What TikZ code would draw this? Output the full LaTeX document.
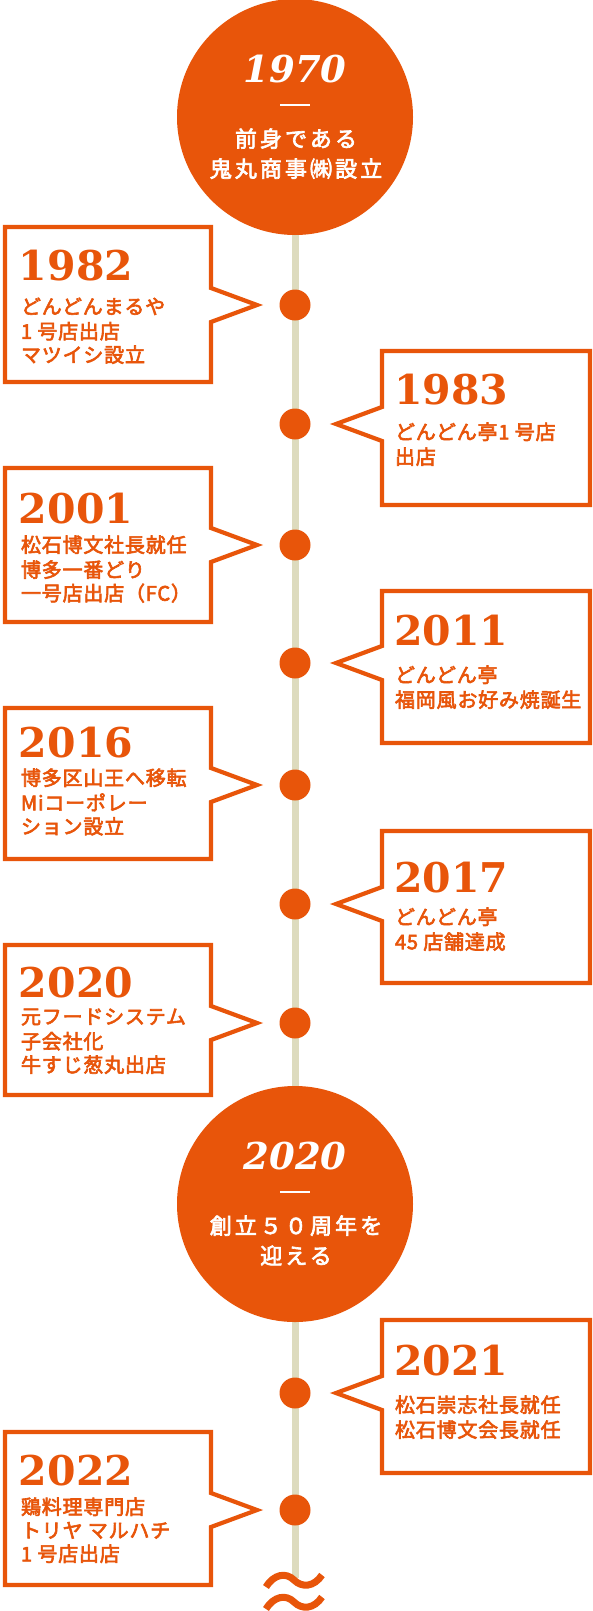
\documentclass[tikz,border=0pt]{standalone}
\usepackage{fontspec}
\usetikzlibrary{backgrounds}
\newfontfamily\jpfont{Noto Sans CJK JP}[LetterSpace=4, FakeBold=3]
\newfontfamily\jpcircfont{Noto Sans CJK JP}[LetterSpace=14, FakeBold=3]
\newfontfamily\yearfont{DejaVu Serif}
\definecolor{tlOrange}{HTML}{E8550A}
\definecolor{tlBeige}{HTML}{DDDBBE}

\begin{document}
\begin{tikzpicture}[
  x=1pt, y=-1pt,
  every node/.style={inner sep=0pt, outer sep=0pt},
  bigcircle/.style={circle, fill=tlOrange, minimum size=236pt},
  dot/.style={circle, fill=tlOrange, minimum size=31pt},
  callout/.style={draw=tlOrange, fill=white, line width=4.2pt, miter limit=10},
  yearbig/.style={
    font=\yearfont\bfseries\itshape\fontsize{37}{37}\selectfont,
    text=white, anchor=base
  },
  circtext/.style={
    font=\jpcircfont\fontsize{22}{30}\selectfont,
    text=white, align=center, anchor=north
  },
  yearsmall/.style={
    font=\yearfont\bfseries\fontsize{41}{41}\selectfont,
    text=tlOrange, anchor=base west
  },
  body/.style={
    font=\jpfont\fontsize{20}{23.5}\selectfont,
    text=tlOrange, align=left, anchor=north west
  },
  spine/.style={draw=tlBeige, line width=7pt},
  wave/.style={draw=tlOrange, line width=7pt}
]
 \useasboundingbox (0,0) rectangle (593,1611);

 % Milestone circles
 \node[bigcircle] (c1970) at (295,117) {};
 \node[yearbig] (y1970) at (295,82) {1970};
 \draw[white, line width=1.2pt] (280,105) -- (310,105);
 \node[circtext] (t1970) at (296,126) {\strut 前身である\\鬼丸商事㈱設立};

 \node[bigcircle] (c2020) at (295,1204) {};
 \node[yearbig] (y2020) at (295,1169) {2020};
 \draw[white, line width=1.2pt] (280,1192) -- (310,1192);
 \node[circtext] (t2020) at (296,1213) {\strut 創立５０周年を\\迎える};

 % Callouts on the left
 \foreach \yr/\bxt/\bxb/\dty/\yrb/\txb/\txt in {
   1982/227/382/305/280/307/{どんどんまるや\\1 号店出店\\マツイシ設立},
   2001/468/622/545/523/545/{松石博文社長就任\\博多一番どり\\一号店出店（FC）},
   2016/708/859/785/757/778/{博多区山王へ移転\\Miコーポレー\\ション設立},
   2020/945/1095/1023/997/1017/{元フードシステム\\子会社化\\牛すじ葱丸出店},
   2022/1432/1585/1510/1485/1507/{鶏料理専門店\\トリヤ マルハチ\\1 号店出店}} {
  \draw[callout] (5,\bxt) -- (211,\bxt) -- (211,\dty-17) -- (257,\dty)
    -- (211,\dty+17) -- (211,\bxb) -- (5,\bxb) -- cycle;
  \node[dot] (dot\yr) at (295,\dty) {};
  \node[yearsmall] (yr\yr) at (19,\yrb) {\yr};
  \node[body] (txt\yr) at (21,\txb-9.5) {\strut\txt};
 }

 % Callouts on the right
 \foreach \yr/\bxt/\bxb/\dty/\yrb/\txb/\txt in {
   1983/351/505/424/404/432/{どんどん亭1 号店\\出店},
   2011/591/743/663/645/675/{どんどん亭\\福岡風お好み焼誕生},
   2017/831/983/904/892/917/{どんどん亭\\45 店舗達成},
   2021/1320/1473/1393/1375/1405/{松石崇志社長就任\\松石博文会長就任}} {
  \draw[callout] (590,\bxt) -- (382,\bxt) -- (382,\dty-17) -- (336,\dty)
    -- (382,\dty+17) -- (382,\bxb) -- (590,\bxb) -- cycle;
  \node[dot] (dot\yr) at (295,\dty) {};
  \node[yearsmall] (yr\yr) at (394,\yrb) {\yr};
  \node[body] (txt\yr) at (395,\txb-9.5) {\strut\txt};
 }

 % Timeline
 \coordinate (tlend) at (295,1578);
 \begin{scope}[on background layer]
  \fill[white] (0,0) rectangle (593,1611);
  \draw[spine] (c1970.center) -- (tlend);
 \end{scope}

 % Break mark
 \draw[wave] (266,1587) .. controls (274,1574) and (286,1572) .. (294,1580)
   .. controls (302,1588) and (314,1587) .. (322,1575);
 \draw[wave] (266,1609) .. controls (274,1596) and (286,1594) .. (294,1602)
   .. controls (302,1610) and (314,1609) .. (322,1597);
\end{tikzpicture}
\end{document}
